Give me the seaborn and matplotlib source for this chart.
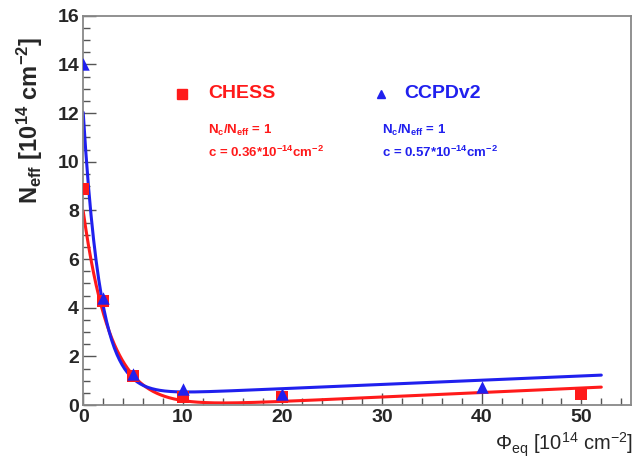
import numpy as np
import matplotlib
matplotlib.use("Agg")
import matplotlib.pyplot as plt
from matplotlib.ticker import MultipleLocator
import seaborn as sns
import pandas as pd

# ---- data ----
chess_phi = [0, 2, 5, 10, 20, 50]
chess_neff = [8.9, 4.3, 1.2, 0.35, 0.35, 0.45]
ccpd_phi = [0, 2, 5, 10, 20, 40]
ccpd_neff = [14.0, 4.4, 1.3, 0.65, 0.45, 0.75]

# fit parameters (Neff = N0*exp(-c*phi) + a + g*phi)
chess_fit = dict(N0=8.2, c=0.36, a=-0.22, g=0.0185)
ccpd_fit = dict(N0=11.7, c=0.57, a=0.33, g=0.0174)
fit_range = (0, 52)

sns.set_theme(style="white")
plt.rcParams['font.family'] = ['Liberation Sans', 'DejaVu Sans']
plt.rcParams['mathtext.default'] = 'regular'

fig = plt.figure(figsize=(6.35, 4.62), dpi=100)
ax = fig.add_axes([0.131, 0.123, 0.863, 0.843])

phi = np.linspace(fit_range[0], fit_range[1], 400)
def model(p, x):
    return p['N0'] * np.exp(-p['c'] * x) + p['a'] + p['g'] * x

red = '#ff1a1a'
blue = '#2020ee'

sns.lineplot(x=phi, y=model(chess_fit, phi), ax=ax, color=red, lw=2.2)
sns.lineplot(x=phi, y=model(ccpd_fit, phi), ax=ax, color=blue, lw=2.2)

df_c = pd.DataFrame({'phi': chess_phi, 'neff': chess_neff})
df_p = pd.DataFrame({'phi': ccpd_phi, 'neff': ccpd_neff})
sns.scatterplot(data=df_c, x='phi', y='neff', ax=ax, marker='s', s=85,
                color=red, edgecolor=red, linewidth=0, zorder=5)
sns.scatterplot(data=df_p, x='phi', y='neff', ax=ax, marker='^', s=80,
                color=blue, edgecolor=blue, linewidth=0, zorder=6)

ax.set_xlim(0, 55)
ax.set_ylim(0, 16)
ax.xaxis.set_major_locator(MultipleLocator(10))
ax.xaxis.set_minor_locator(MultipleLocator(2))
ax.yaxis.set_major_locator(MultipleLocator(2))
ax.yaxis.set_minor_locator(MultipleLocator(0.5))
ax.tick_params(axis='both', which='both', direction='in', top=False, right=False,
               left=True, bottom=True, color='#555555', width=1)
ax.tick_params(which='major', length=9, labelsize=14, pad=3)
ax.tick_params(which='minor', length=5)
for lab in ax.get_xticklabels() + ax.get_yticklabels():
    lab.set_fontweight('bold')
for s in ax.spines.values():
    s.set_color('#888888')
    s.set_linewidth(1.3)

ax.set_xlabel('')
ax.set_ylabel('')
fig.text(0.047, 0.74, r'N$_{eff}$ [10$^{14}$ cm$^{-2}$]', rotation=90,
         fontsize=17, fontweight='bold', ha='center', va='center')
fig.text(0.997, 0.037, r'$\Phi_{eq}$ [10$^{14}$ cm$^{-2}$]', fontsize=14.5,
         ha='right', va='center')

# legend-like labels
ax.plot([9.9], [12.8], marker='s', color=red, ms=7, ls='none')
ax.text(12.6, 12.8, 'CHESS', color=red, fontsize=14, fontweight='bold', va='center')
ax.plot([29.9], [12.8], marker='^', color=blue, ms=6, ls='none')
ax.text(32.2, 12.8, 'CCPDv2', color=blue, fontsize=14, fontweight='bold', va='center')

fs = 9.5
ax.text(12.5, 11.27, r'N$_c$/N$_{eff}$ = 1', color=red, fontsize=fs, fontweight='bold',
        va='center')
ax.text(12.5, 10.37, r'c = 0.36*10$^{-14}$cm$^{-2}$', color=red, fontsize=fs,
        fontweight='bold', va='center')
ax.text(30.0, 11.27, r'N$_c$/N$_{eff}$ = 1', color=blue, fontsize=fs, fontweight='bold',
        va='center')
ax.text(30.0, 10.37, r'c = 0.57*10$^{-14}$cm$^{-2}$', color=blue, fontsize=fs,
        fontweight='bold', va='center')

fig.savefig('out.png', dpi=100)
